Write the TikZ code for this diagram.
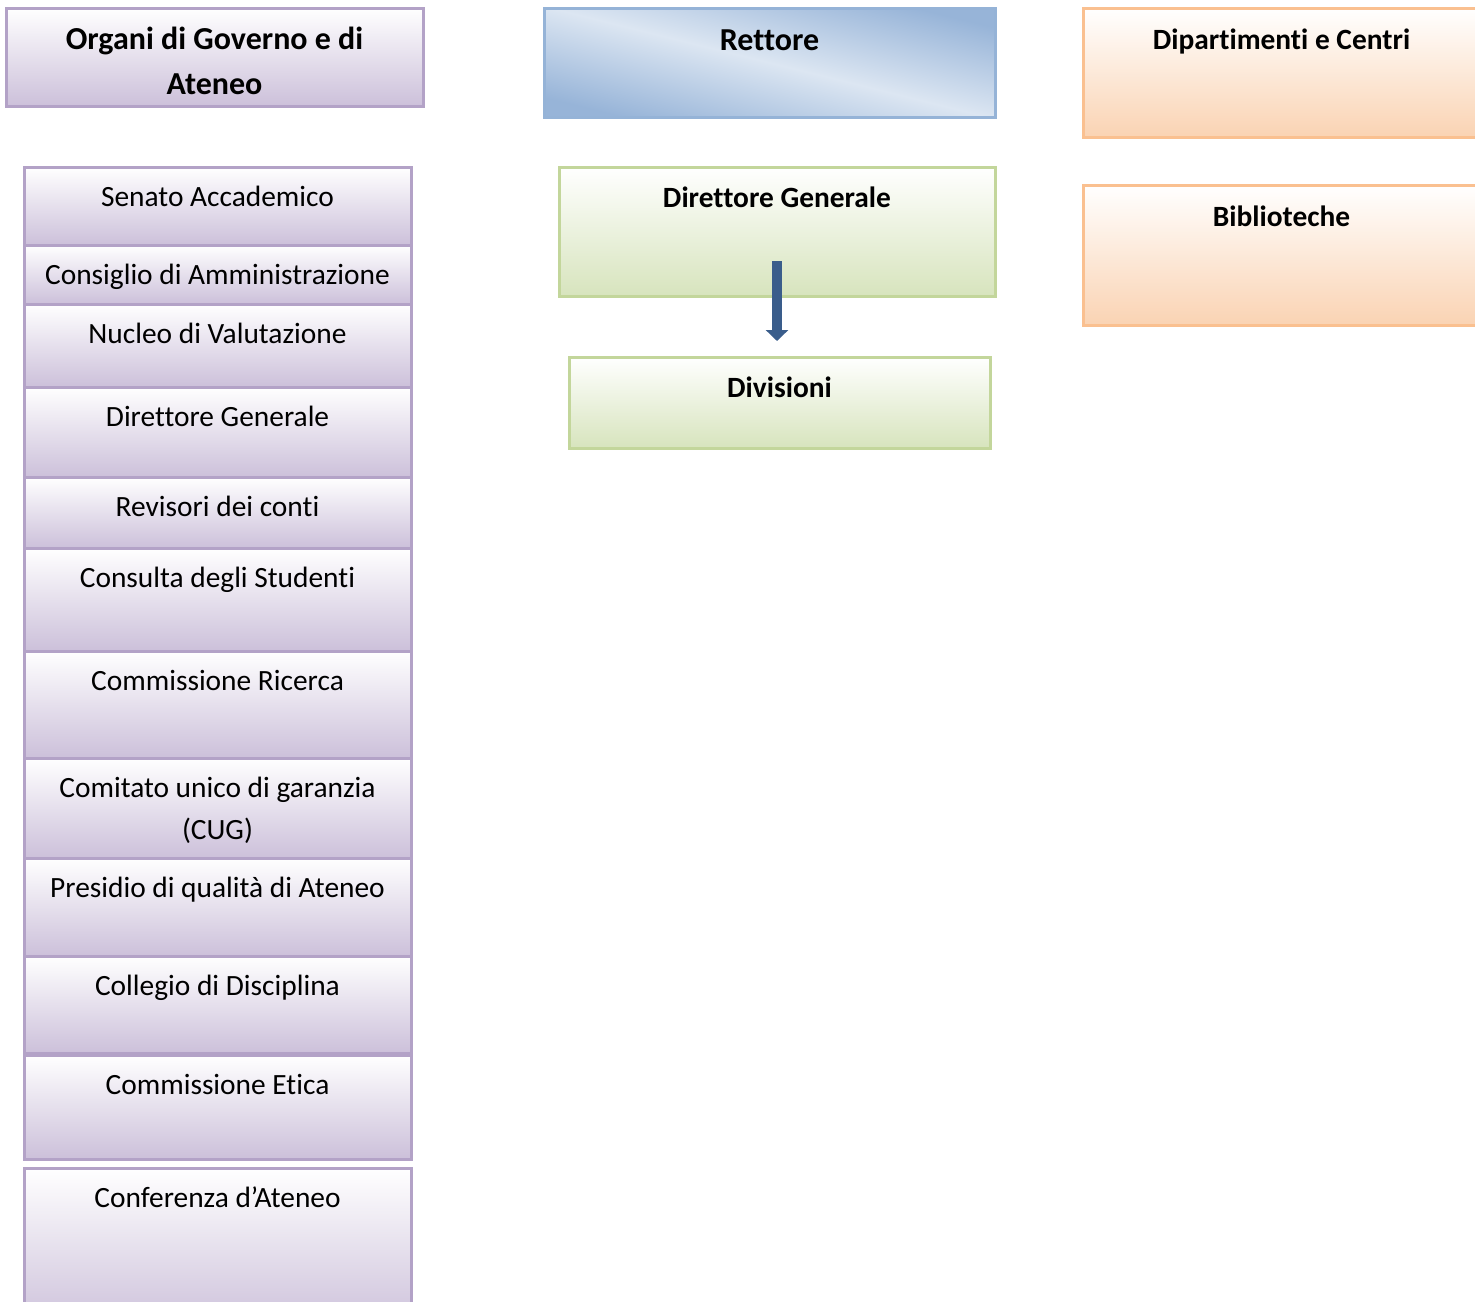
\documentclass[tikz,border=0pt]{standalone}
\usepackage{fontspec}
\setmainfont{Carlito}[Ligatures={NoCommon,NoRequired,NoContextual}]
\usetikzlibrary{arrows.meta}
\definecolor{violabordo}{HTML}{B3A2C7}
\definecolor{violafondo}{HTML}{CCC0DA}
\definecolor{verdebordo}{HTML}{C3D69B}
\definecolor{verdefondo}{HTML}{D7E4BD}
\definecolor{aranbordo}{HTML}{FAC090}
\definecolor{aranfondo}{HTML}{FAD3B3}
\definecolor{blubordo}{HTML}{95B3D7}
\definecolor{bluchiaro}{HTML}{DCE6F2}
\definecolor{bluscuro}{HTML}{97B4D8}
\definecolor{frecciablu}{HTML}{3A5D8B}
\tikzset{
  casella/.style={draw,line width=1.5pt,inner sep=0pt,outer sep=0pt},
  organo/.style={casella,draw=violabordo,top color=white,bottom color=violafondo,minimum width=193.5pt},
  ufficio/.style={casella,draw=verdebordo,top color=white,bottom color=verdefondo},
  struttura/.style={casella,draw=aranbordo,top color=white,bottom color=aranfondo,minimum width=198.5pt},
  voce/.style={anchor=base,inner sep=0pt,font=\fontsize{14.7}{21}\selectfont},
  titolo/.style={anchor=base,inner sep=0pt,font=\fontsize{14.7}{21}\selectfont\bfseries},
  intestazione/.style={anchor=base,inner sep=0pt,font=\fontsize{16}{22.5}\selectfont\bfseries},
  freccia/.style={draw=frecciablu,line width=5pt,-{Triangle[length=5.5pt,width=11pt]}}
}
\begin{document}
\begin{tikzpicture}[x=0.5pt,y=-0.5pt]
  \useasboundingbox (0,0) rectangle (1475,1301);
  \node[organo,minimum width=208.5pt,minimum height=49pt] (hdr) at (214.5,57) {};
  \node[casella,draw=blubordo,top color=bluscuro,bottom color=bluscuro,middle color=bluchiaro,shading angle=-14,minimum width=225.5pt,minimum height=54.5pt] (rett) at (769.5,62.5) {};
  \node[struttura,minimum height=64.5pt] (dip) at (1281.5,72.5) {};
  \node[struttura,minimum height=70pt] (bib) at (1281.5,255) {};
  \node[ufficio,minimum width=218pt,minimum height=64.5pt] (dg) at (777,231.5) {};
  \node[ufficio,minimum width=210.5pt,minimum height=45.5pt] (div) at (779.5,402.5) {};
  \node[organo,minimum height=39pt] (senato) at (217.5,206) {};
  \node[organo,minimum height=29.5pt] (consiglio) at (217.5,274.5) {};
  \node[organo,minimum height=41.5pt] (nucleo) at (217.5,345.5) {};
  \node[organo,minimum height=45pt] (dirgen) at (217.5,432) {};
  \node[organo,minimum height=35.5pt] (revisori) at (217.5,512.5) {};
  \node[organo,minimum height=51.5pt] (consulta) at (217.5,599.5) {};
  \node[organo,minimum height=53.5pt] (ricerca) at (217.5,704.5) {};
  \node[organo,minimum height=50pt] (cug) at (217.5,808) {};
  \node[organo,minimum height=49pt] (presidio) at (217.5,907) {};
  \node[organo,minimum height=48.5pt] (collegio) at (217.5,1004.5) {};
  \node[organo,minimum height=52pt] (etica) at (217.5,1107) {};
  \node[organo,minimum height=81pt] (conferenza) at (217.5,1249) {};
  \node[intestazione,align=center] (hdrt) at (214.5,94) {Organi di Governo e di\\Ateneo};
  \node[intestazione] (rettt) at (769.5,50) {Rettore};
  \node[titolo] (dipt) at (1281.5,49) {Dipartimenti e Centri};
  \node[titolo] (bibt) at (1281.5,226) {Biblioteche};
  \node[titolo] (dgt) at (777,207) {Direttore Generale};
  \node[titolo] (divt) at (779.5,397) {Divisioni};
  \node[voce] (senatot) at (217.5,206) {Senato Accademico};
  \node[voce] (consigliot) at (217.5,284) {Consiglio di Amministrazione};
  \node[voce] (nucleot) at (217.5,343) {Nucleo di Valutazione};
  \node[voce] (dirgent) at (217.5,426) {Direttore Generale};
  \node[voce] (revisorit) at (217.5,516) {Revisori dei conti};
  \node[voce] (consultat) at (217.5,587) {Consulta degli Studenti};
  \node[voce] (ricercat) at (217.5,690) {Commissione Ricerca};
  \node[voce,align=center] (cugt) at (217.5,839) {Comitato unico di garanzia\\(CUG)};
  \node[voce] (presidiot) at (217.5,897) {Presidio di qualità di Ateneo};
  \node[voce] (collegiot) at (217.5,995) {Collegio di Disciplina};
  \node[voce] (eticat) at (217.5,1094) {Commissione Etica};
  \node[voce] (conferenzat) at (217.5,1207) {Conferenza d’Ateneo};
  \draw[freccia,shorten <=-17.5pt,shorten >=8pt] (dg.south) -- (dg.south |- div.north);
\end{tikzpicture}
\end{document}
